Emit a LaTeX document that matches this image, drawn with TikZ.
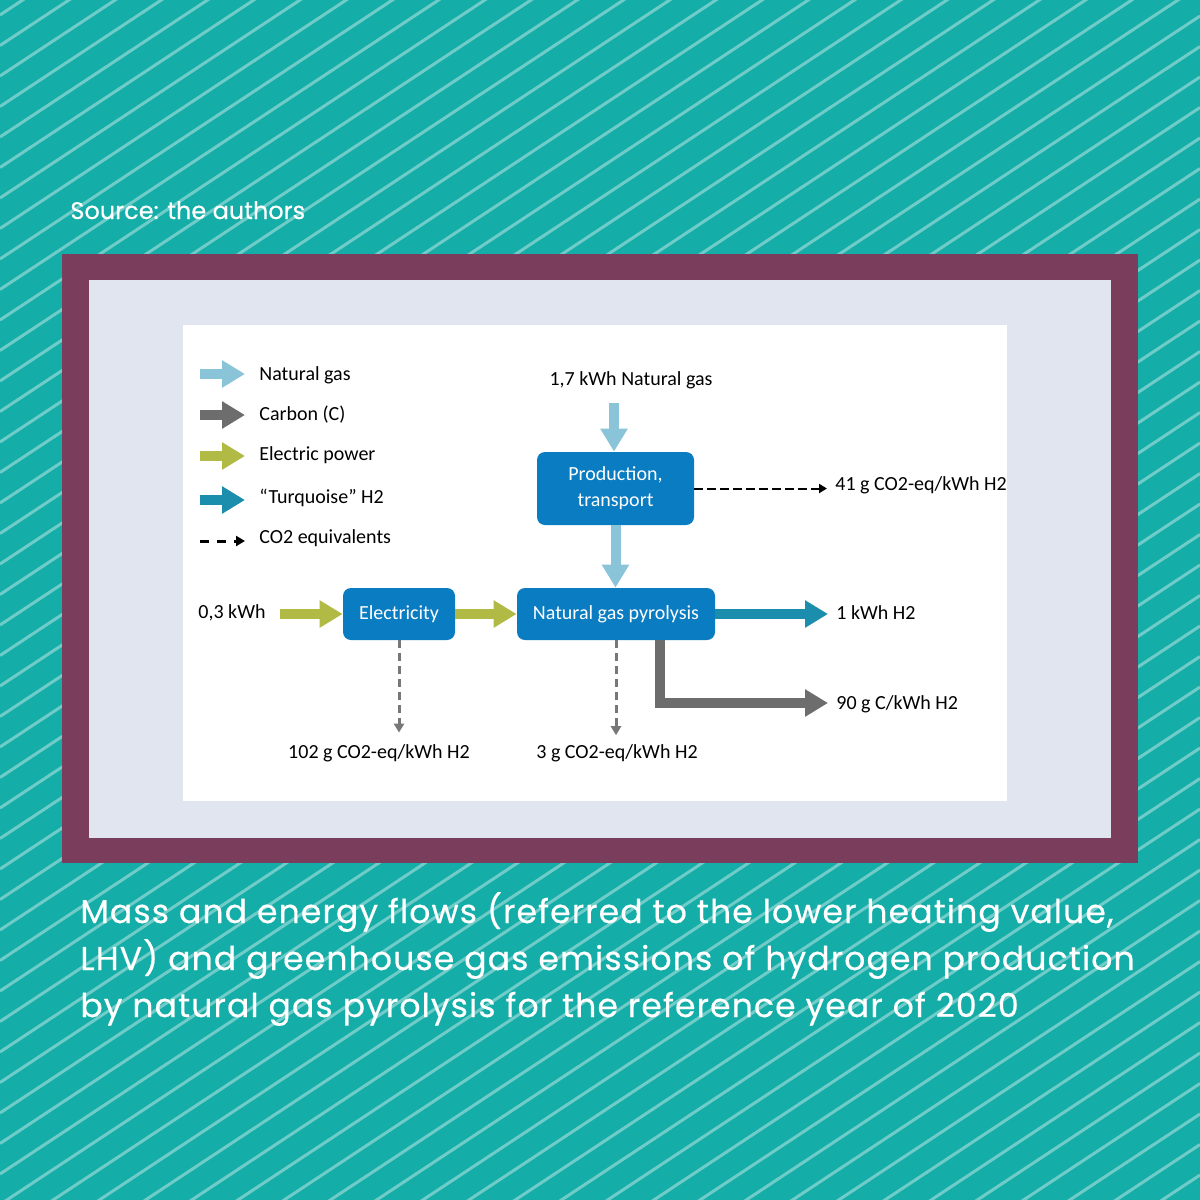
\documentclass[tikz,border=0pt]{standalone}
\usepackage{fontspec}
\usepackage{xcolor}
\usetikzlibrary{arrows.meta,positioning,calc}
\newfontfamily\dgfont{Carlito}
\newfontfamily\popfont[FakeBold=0.5]{Poppins}
\newfontfamily\capfont[LetterSpace=3.5,FakeBold=0.5]{Poppins}
\definecolor{bgteal}{HTML}{14ADA7}
\definecolor{stripe}{HTML}{70CCC8}
\definecolor{frame}{HTML}{7A3D5C}
\definecolor{panel}{HTML}{E1E5F0}
\definecolor{boxblue}{HTML}{0A7CC1}
\definecolor{gasblue}{HTML}{8AC4D8}
\definecolor{carbgray}{HTML}{6D6D6D}
\definecolor{elecgreen}{HTML}{B0BA45}
\definecolor{hydteal}{HTML}{1B8EAE}
\definecolor{co2gray}{HTML}{777777}
\tikzset{
  procbox/.style={fill=boxblue,rounded corners=4pt,text=white,align=center,
                  inner sep=0pt,font=\dgfont\fontsize{10}{13}\selectfont},
  lbl/.style={inner sep=0pt,text height=6.4pt,text depth=0pt,
              font=\dgfont\fontsize{10}{12}\selectfont},
  flowarr/.style={line width=5pt,line join=miter,
                  -{Triangle[length=11.5pt,width=13pt]}},
  gasarr/.style={flowarr,draw=gasblue},
  carbarr/.style={flowarr,draw=carbgray},
  elecarr/.style={flowarr,draw=elecgreen},
  hydarr/.style={flowarr,draw=hydteal},
  co2arr/.style={draw=black,line width=1pt,dash pattern=on 4.5pt off 2pt,
                 -{Triangle[length=4pt,width=4.5pt]}},
  legco2/.style={draw=black,line width=1.5pt,dash pattern=on 4.5pt off 4pt,
                 -{Triangle[length=4.5pt,width=5pt]}},
  co2grey/.style={draw=co2gray,line width=1.5pt,dash pattern=on 4pt off 2.5pt,
                  -{Triangle[length=4.5pt,width=5pt]}},
  caption/.style={inner sep=0pt,anchor=base west,text=white,
                  font=\capfont\fontsize{16.5}{20}\selectfont}
}

\begin{document}
\begin{tikzpicture}[x=0.5pt,y=-0.5pt]
  \useasboundingbox (0,0) rectangle (1200,1200);

  % striped background
  \fill[bgteal] (0,0) rectangle (1200,1200);
  \begin{scope}
    \clip (0,0) rectangle (1200,1200);
    \foreach \k in {-1,...,66}
      \draw[stripe,line width=1.5pt] (0,{15+30.5*\k}) -- (1200,{15+30.5*\k-792});
  \end{scope}

  \node[inner sep=0pt,anchor=base west,text=white,
        font=\popfont\fontsize{12}{14}\selectfont] (src) at (70,219)
    {Source: the authors};

  % frames
  \fill[frame] (62,254) rectangle (1138,863);
  \fill[panel] (89,280) rectangle (1111,838);
  \fill[white] (183,325) rectangle (1007,801);

  % legend
  \node[lbl,anchor=west] (lgas) at (259,374) {Natural gas};
  \node[lbl,anchor=west] (lcarb) at (259,414) {Carbon (C)};
  \node[lbl,anchor=west] (lelec) at (259,454) {Electric power};
  \node[lbl,anchor=west] (lhyd) at (259,497) {“Turquoise” H2};
  \node[lbl,anchor=west] (lco2) at (259,537) {CO2 equivalents};
  \draw[gasarr] ($(lgas.west)+(-59,0)$) -- ($(lgas.west)+(-14,0)$);
  \draw[carbarr] ($(lcarb.west)+(-59,1)$) -- ($(lcarb.west)+(-14,1)$);
  \draw[elecarr] ($(lelec.west)+(-59,2)$) -- ($(lelec.west)+(-14,2)$);
  \draw[hydarr] ($(lhyd.west)+(-59,3)$) -- ($(lhyd.west)+(-14,3)$);
  \draw[legco2] ($(lco2.west)+(-59,4)$) -- ($(lco2.west)+(-14,4)$);

  % process boxes
  \node[procbox,minimum width=78.5pt,minimum height=36.5pt] (prod) at (615.5,488.5)
    {Production,\\transport};
  \node[procbox,minimum width=99pt,minimum height=26pt] (pyro) at (616,614)
    {Natural gas pyrolysis};
  \node[procbox,minimum width=56pt,minimum height=26pt] (elec) at (399,614)
    {Electricity};

  % flow labels
  \node[lbl] (ngin) at (631,379) {1,7 kWh Natural gas};
  \node[lbl,anchor=west] (em41) at (835,484) {41 g CO2-eq/kWh H2};
  \node[lbl,anchor=west] (elin) at (198,612) {0,3 kWh};
  \node[lbl,anchor=west] (h2out) at (836,613) {1 kWh H2};
  \node[lbl,anchor=west] (cout) at (836,703) {90 g C/kWh H2};
  \node[lbl] (em102) at (379,752) {102 g CO2-eq/kWh H2};
  \node[lbl] (em3) at (617,752) {3 g CO2-eq/kWh H2};

  \coordinate (ngtop) at (614,403);
  \coordinate (elstart) at (280,614);
  \coordinate (ctap) at (660,640);

  % flows
  \draw[gasarr] (ngtop) -- (ngtop |- prod.north);
  \draw[gasarr] (prod.south) -- (prod.south |- pyro.north);
  \draw[co2arr,shorten >=4pt] (prod.east) -- (prod.east -| em41.west);
  \draw[elecarr] (elstart) -- (elec.west);
  \draw[elecarr] (elec.east) -- (pyro.west);
  \draw[hydarr,shorten >=4pt] (pyro.east) -- (pyro.east -| h2out.west);
  \draw[carbarr,shorten >=4pt] (pyro.south -| ctap) |- (cout.west);
  \draw[co2grey,shorten >=6.3pt] (elec.south) -- (elec.south |- em102.north);
  \draw[co2grey,shorten >=5pt] (pyro.south) -- (pyro.south |- em3.north);

  % caption
  \node[caption] (cap1) at (80,923)
    {Mass and energy flows (referred to the lower heating value,};
  \node[caption] (cap2) at (80,970)
    {LHV) and greenhouse gas emissions of hydrogen production};
  \node[caption] (cap3) at (80,1017)
    {by natural gas pyrolysis for the reference year of 2020};
\end{tikzpicture}
\end{document}
